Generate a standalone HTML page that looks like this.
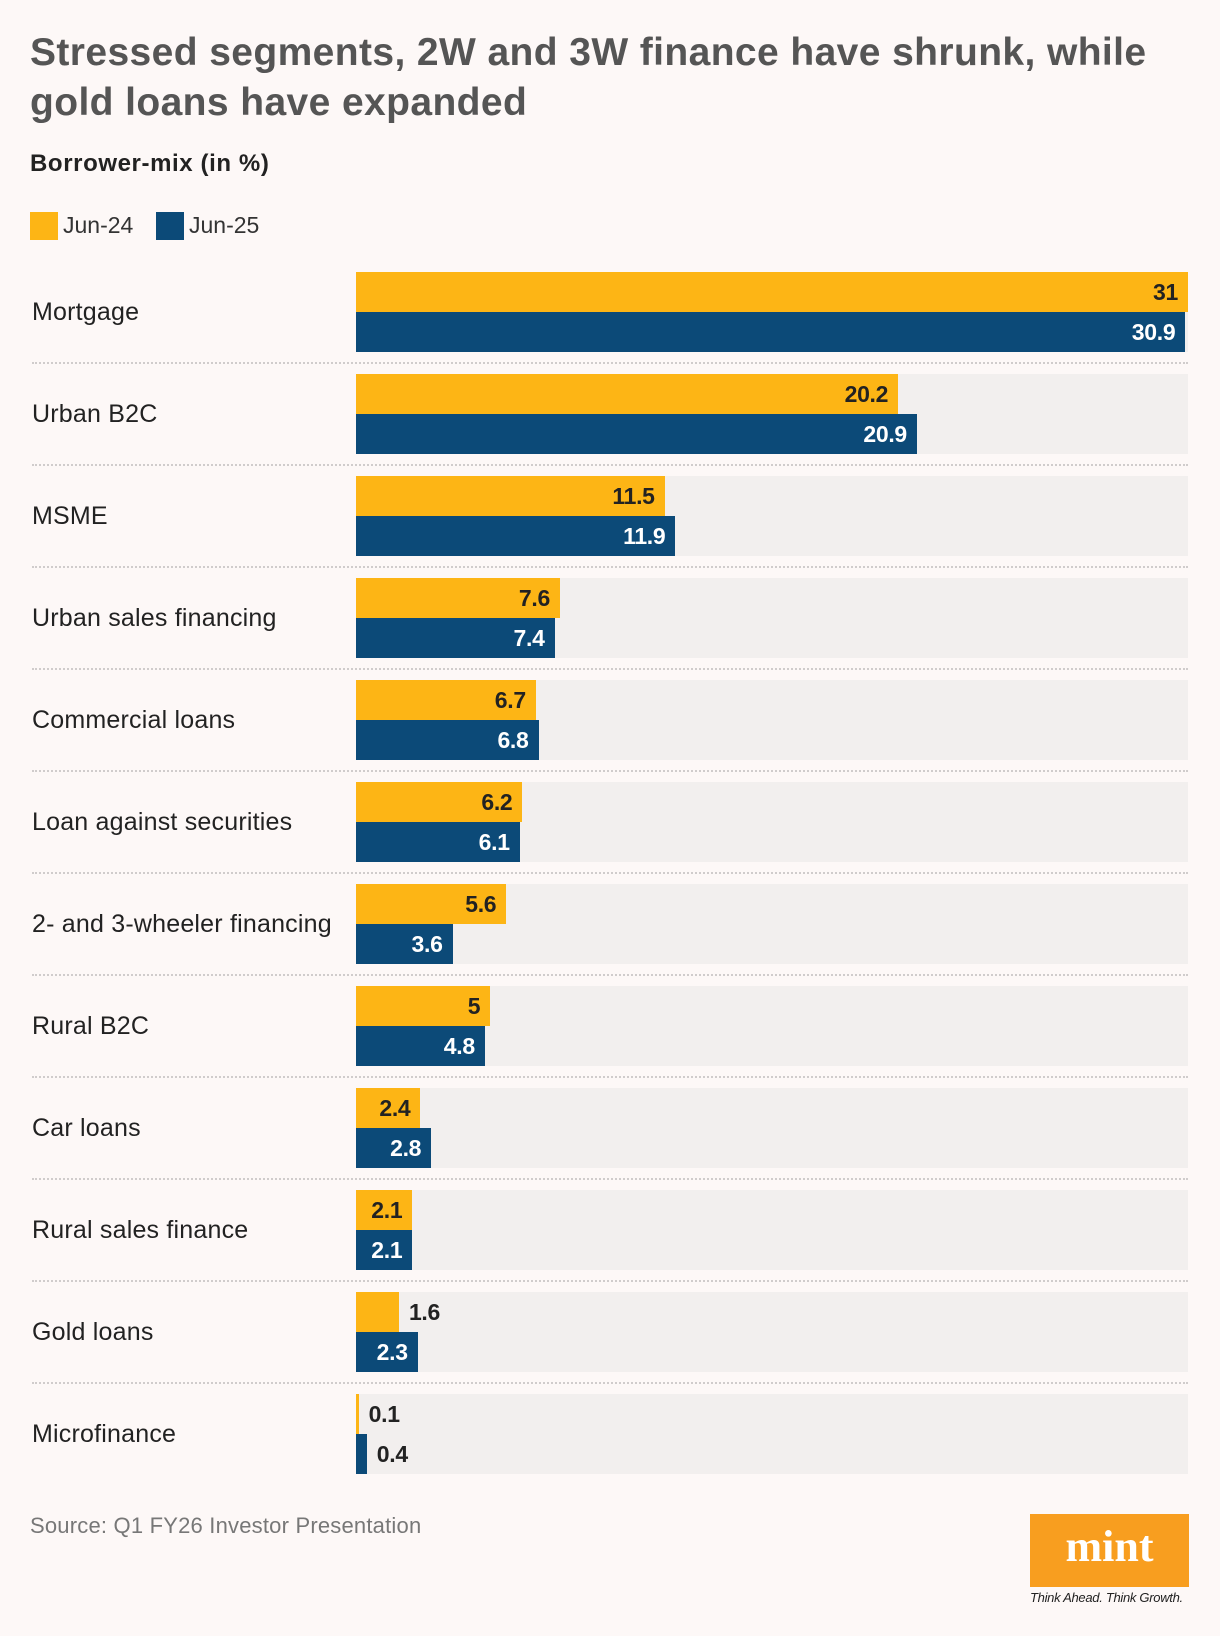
<!DOCTYPE html>
<html><head><meta charset="utf-8"><style>
body{margin:0;background:#fdf8f7;font-family:"Liberation Sans",sans-serif;}
#wrap{position:relative;width:1220px;height:1636px;overflow:hidden;background:#fdf8f7;}
.t{position:absolute;white-space:nowrap;}
</style></head><body>
<div id="wrap">
<div class="t" style="left:30px;top:28px;font-size:39px;font-weight:bold;color:#555;line-height:50px;letter-spacing:0.4px;">Stressed segments, 2W and 3W finance have shrunk, while<br>gold loans have expanded</div>
<div class="t" style="left:30px;top:150px;font-size:24px;font-weight:bold;color:#222;letter-spacing:0.6px;">Borrower-mix (in %)</div>
<div>
<div style="position:absolute;left:30px;top:212px;width:28px;height:28px;background:#fdb515"></div>
<div class="t" style="left:63px;top:212px;font-size:23px;color:#333;">Jun-24</div>
<div style="position:absolute;left:156px;top:212px;width:28px;height:28px;background:#0c4a78"></div>
<div class="t" style="left:189px;top:212px;font-size:23px;color:#333;">Jun-25</div>
</div>
<div id="rows"></div>
<div class="t" style="left:30px;top:1513px;font-size:22px;color:#777;letter-spacing:0.2px;">Source: Q1 FY26 Investor Presentation</div>
<div style="position:absolute;left:1030px;top:1514px;width:159px;height:73px;background:#f89e1f;color:#fff;font-family:'Liberation Serif',serif;font-weight:bold;font-size:44px;text-align:center;line-height:66px;">mint</div>
<div class="t" style="left:1030px;top:1590px;font-size:13px;font-style:italic;color:#222;letter-spacing:-0.3px;">Think Ahead. Think Growth.</div>
</div>
<script>
const categories=["Mortgage","Urban B2C","MSME","Urban sales financing","Commercial loans","Loan against securities","2- and 3-wheeler financing","Rural B2C","Car loans","Rural sales finance","Gold loans","Microfinance"];
const jun24=[31,20.2,11.5,7.6,6.7,6.2,5.6,5,2.4,2.1,1.6,0.1];
const jun25=[30.9,20.9,11.9,7.4,6.8,6.1,3.6,4.8,2.8,2.1,2.3,0.4];
const x0=356,x1=1188,maxV=31,top0=272,pitch=102,barH=40;
const xs=v=>v/maxV*(x1-x0);
const root=document.getElementById('rows');
function mk(tag,css){const e=document.createElement(tag);e.style.cssText=css;root.appendChild(e);return e;}
categories.forEach((c,i)=>{
  const y=top0+i*pitch;
  const bg=mk('div',`position:absolute;left:${x0}px;top:${y}px;width:${x1-x0}px;height:${barH*2}px;background:#f2efee`);
  
  
  const lb=mk('div',`position:absolute;left:32px;top:${y}px;height:${barH*2}px;line-height:${barH*2}px;font-size:25px;color:#222;letter-spacing:0.2px;white-space:nowrap`);
  lb.textContent=c;
  
  
  [[jun24[i],'#fdb515','#222'],[jun25[i],'#0c4a78','#fff']].forEach((s,k)=>{
    const w=xs(s[0]);
    const b=mk('div',`position:absolute;left:${x0}px;top:${y+k*barH}px;width:${Math.max(w,1.5)}px;height:${barH}px;background:${s[1]}`);
    
    
    const inside=w>50;
    const v=mk('div',`position:absolute;top:${y+k*barH}px;height:${barH}px;line-height:${barH}px;font-size:23px;font-weight:bold;letter-spacing:-0.3px;white-space:nowrap;`+(inside?`right:${1220-(x0+w)+10}px;color:${s[2]}`:`left:${x0+w+10}px;color:#222`));
    v.textContent=s[0];
    
    
  });
  if(i<categories.length-1){
    const sep=mk('div',`position:absolute;left:32px;top:${y+barH*2+10}px;width:${x1-32}px;height:0;border-top:2px dotted #d0cccc`);
    
    
  }
});
</script>
</body></html>
